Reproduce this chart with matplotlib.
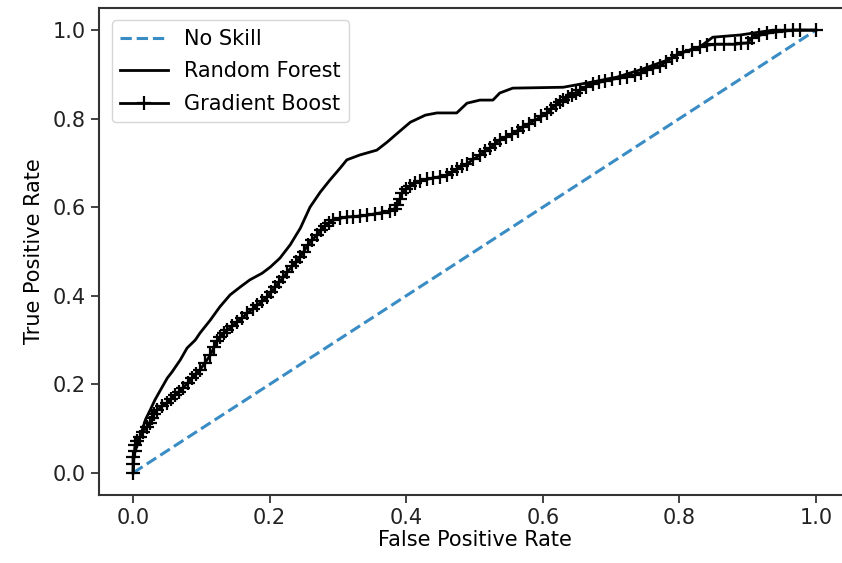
import numpy as np
import matplotlib
matplotlib.use('Agg')
import matplotlib.pyplot as plt

# no skill diagonal
ns_fpr = [0.0, 1.0]
ns_tpr = [0.0, 1.0]

# Random Forest ROC
rf_fpr = [0.0, 0.0015, 0.006, 0.010, 0.018, 0.025, 0.032, 0.040, 0.050, 0.057,
          0.069, 0.079, 0.091, 0.098, 0.113, 0.127, 0.142, 0.157, 0.171, 0.189,
          0.201, 0.215, 0.230, 0.245, 0.259, 0.274, 0.288, 0.303, 0.313, 0.332,
          0.357, 0.372, 0.387, 0.406, 0.428, 0.445, 0.474, 0.489, 0.508, 0.527,
          0.537, 0.556, 0.630, 0.673, 0.709, 0.742, 0.782, 0.801, 0.830, 0.849,
          0.889, 0.937, 1.0]
rf_tpr = [0.0, 0.041, 0.063, 0.081, 0.120, 0.142, 0.165, 0.187, 0.214, 0.228,
          0.255, 0.282, 0.300, 0.316, 0.345, 0.375, 0.402, 0.420, 0.436, 0.451,
          0.465, 0.485, 0.515, 0.553, 0.600, 0.634, 0.661, 0.688, 0.707, 0.718,
          0.729, 0.747, 0.767, 0.792, 0.808, 0.813, 0.813, 0.835, 0.842, 0.842,
          0.858, 0.869, 0.871, 0.883, 0.894, 0.910, 0.932, 0.948, 0.962, 0.984,
          0.989, 1.0, 1.0]

# Gradient Boost ROC (one entry per visible marker)
gb_fpr = [0.000, 0.000, 0.000, 0.002, 0.003, 0.006, 0.010, 0.014, 0.020, 0.024,
          0.028, 0.031, 0.035, 0.042, 0.050, 0.055, 0.061, 0.067, 0.073, 0.080,
          0.086, 0.092, 0.098, 0.105, 0.113, 0.119, 0.123, 0.127, 0.133, 0.138,
          0.145, 0.152, 0.160, 0.167, 0.175, 0.182, 0.189, 0.196, 0.202, 0.208,
          0.214, 0.220, 0.226, 0.233, 0.239, 0.245, 0.250, 0.256, 0.262, 0.269,
          0.275, 0.281, 0.287, 0.293, 0.303, 0.313, 0.322, 0.332, 0.343, 0.354,
          0.365, 0.376, 0.383, 0.387, 0.391, 0.394, 0.400, 0.406, 0.413, 0.420,
          0.430, 0.439, 0.450, 0.460, 0.467, 0.474, 0.481, 0.489, 0.498, 0.508,
          0.515, 0.523, 0.530, 0.537, 0.546, 0.555, 0.563, 0.571, 0.580, 0.589,
          0.598, 0.606, 0.612, 0.619, 0.625, 0.630, 0.637, 0.643, 0.649, 0.654,
          0.663, 0.673, 0.682, 0.691, 0.702, 0.713, 0.724, 0.735, 0.744, 0.753,
          0.762, 0.772, 0.780, 0.789, 0.797, 0.805, 0.818, 0.830, 0.841, 0.852,
          0.866, 0.881, 0.891, 0.900, 0.906, 0.917, 0.928, 0.942, 0.955, 0.966,
          0.977, 1.000]
gb_tpr = [0.000, 0.020, 0.036, 0.050, 0.063, 0.072, 0.081, 0.092, 0.104, 0.113,
          0.124, 0.133, 0.142, 0.150, 0.158, 0.167, 0.176, 0.183, 0.192, 0.203,
          0.214, 0.223, 0.233, 0.248, 0.266, 0.285, 0.298, 0.307, 0.316, 0.323,
          0.331, 0.341, 0.350, 0.361, 0.370, 0.379, 0.388, 0.397, 0.408, 0.420,
          0.431, 0.442, 0.454, 0.467, 0.477, 0.488, 0.500, 0.515, 0.526, 0.537,
          0.548, 0.558, 0.565, 0.571, 0.575, 0.578, 0.579, 0.580, 0.582, 0.585,
          0.588, 0.591, 0.597, 0.605, 0.619, 0.632, 0.641, 0.648, 0.654, 0.659,
          0.663, 0.666, 0.669, 0.673, 0.680, 0.686, 0.692, 0.698, 0.708, 0.718,
          0.726, 0.734, 0.743, 0.752, 0.758, 0.765, 0.773, 0.781, 0.789, 0.797,
          0.805, 0.813, 0.822, 0.831, 0.837, 0.842, 0.848, 0.853, 0.859, 0.865,
          0.872, 0.878, 0.882, 0.885, 0.889, 0.892, 0.895, 0.898, 0.904, 0.910,
          0.914, 0.919, 0.928, 0.937, 0.944, 0.950, 0.956, 0.962, 0.966, 0.968,
          0.968, 0.968, 0.970, 0.971, 0.982, 0.988, 0.993, 0.996, 0.998, 1.000,
          1.000, 1.000]

plt.rcParams['font.size'] = 15

fig = plt.figure(figsize=(8.42, 5.63), dpi=100)
# axes run a little past the right edge of the picture, as in the original crop
ax = fig.add_axes([99 / 842, 68 / 563, 751 / 842, 487 / 563])

ax.plot(ns_fpr, ns_tpr, linestyle='--', color='#3a8cc4', lw=2.2, label='No Skill')
ax.plot(rf_fpr, rf_tpr, color='black', lw=2, label='Random Forest')
ax.plot(gb_fpr, gb_tpr, color='black', lw=2, marker='+', markersize=10,
        markeredgewidth=1.6, label='Gradient Boost')

ax.set_xlim(-0.05, 1.05)
ax.set_ylim(-0.05, 1.05)
ax.set_xticks([0.0, 0.2, 0.4, 0.6, 0.8, 1.0])
ax.set_yticks([0.0, 0.2, 0.4, 0.6, 0.8, 1.0])
ax.set_xlabel('False Positive Rate', labelpad=1)
ax.set_ylabel('True Positive Rate', labelpad=6)
ax.tick_params(length=6, width=1.2, colors='#222222')
ax.spines['right'].set_visible(False)
for s in ax.spines.values():
    s.set_linewidth(1.5)
    s.set_color('#333333')

ax.legend(loc='upper left', fontsize=15, handlelength=2.3, labelspacing=0.6,
          borderaxespad=0.6)

fig.savefig('out.png', dpi=100)
